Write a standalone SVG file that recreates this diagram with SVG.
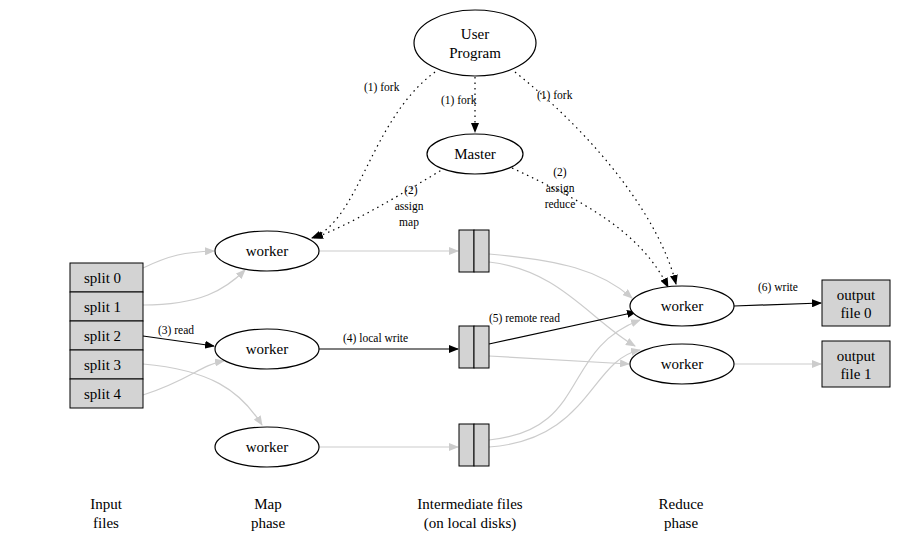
<svg xmlns="http://www.w3.org/2000/svg" width="924" height="553" viewBox="0 0 924 553" font-family="'Liberation Serif','DejaVu Serif',serif">
<defs>
<marker id="ab" markerWidth="10" markerHeight="8" refX="9" refY="4" orient="auto" markerUnits="userSpaceOnUse"><path d="M0,0L10,4L0,8z" fill="#000"/></marker>
<marker id="ag" markerWidth="10" markerHeight="8" refX="9" refY="4" orient="auto" markerUnits="userSpaceOnUse"><path d="M0,0L10,4L0,8z" fill="#ccc"/></marker>
</defs>
<style>
text{font-family:'Liberation Serif','DejaVu Serif',serif;fill:#000}
.n{font-size:15px}.s{font-size:11.5px}
ellipse{fill:#fff;stroke:#000;stroke-width:1.2}
.box{fill:#d3d3d3;stroke:#000;stroke-width:1}
.k{fill:none;stroke:#000;stroke-width:1.2;marker-end:url(#ab)}
.g{fill:none;stroke:#ccc;stroke-width:1.2;marker-end:url(#ag)}
.d{fill:none;stroke:#000;stroke-width:1.2;stroke-dasharray:1.5 4;marker-end:url(#ab)}
</style>
<rect width="924" height="553" fill="#fff"/>
<g id="connectors">
<path class="d" d="M435,72 C370,120 360,220 312,238"/>
<path class="d" d="M475,77 L475,132"/>
<path class="d" d="M515,72 C600,140 660,220 676,284"/>
<path class="d" d="M445,168 C400,195 350,225 314,238"/>
<path class="d" d="M512,168 C580,200 640,230 668,287"/>
<path class="g" d="M143,268 C170,255 185,252 214,251"/>
<path class="g" d="M143,305 C200,305 225,290 245,270"/>
<path class="k" d="M143,336 L214,346"/>
<path class="g" d="M143,364 C210,370 240,390 262,425"/>
<path class="g" d="M143,395 C190,380 200,365 224,361"/>
<path class="g" d="M319,251 L458,251"/>
<path class="k" d="M319,349 L458,349"/>
<path class="g" d="M319,447 L458,447"/>
<path class="g" d="M489,254 C560,260 600,270 632,298"/>
<path class="g" d="M489,262 C560,270 590,320 635,346"/>
<path class="k" d="M489,344 L636,312"/>
<path class="g" d="M489,356 C560,360 600,362 629,364"/>
<path class="g" d="M489,440 C590,430 560,350 640,320"/>
<path class="g" d="M489,447 C590,440 590,360 640,350"/>
<path class="k" d="M734,306 L821,303"/>
<path class="g" d="M734,364 L821,364"/>
</g>
<g class="s">
<text x="364" y="91">(1) fork</text>
<text x="441" y="104">(1) fork</text>
<text x="537" y="99">(1) fork</text>
<text x="411" y="194" text-anchor="middle">(2)</text>
<text x="409" y="210" text-anchor="middle">assign</text>
<text x="409" y="226" text-anchor="middle">map</text>
<text x="560" y="176" text-anchor="middle">(2)</text>
<text x="560" y="192" text-anchor="middle">assign</text>
<text x="560" y="208" text-anchor="middle">reduce</text>
<text x="158" y="334">(3) read</text>
<text x="343" y="342">(4) local write</text>
<text x="489" y="322">(5) remote read</text>
<text x="758" y="291">(6) write</text>
</g>
<g id="user"><ellipse cx="475" cy="43" rx="61" ry="33"/><text class="n" x="475" y="39" text-anchor="middle">User</text><text class="n" x="475" y="58" text-anchor="middle">Program</text></g>
<g id="master"><ellipse cx="475" cy="154" rx="48" ry="20"/><text class="n" x="475" y="159" text-anchor="middle">Master</text></g>
<g id="mw1"><ellipse cx="267" cy="251" rx="52" ry="20"/><text class="n" x="267" y="256" text-anchor="middle">worker</text></g>
<g id="mw2"><ellipse cx="267" cy="349" rx="52" ry="20"/><text class="n" x="267" y="354" text-anchor="middle">worker</text></g>
<g id="mw3"><ellipse cx="267" cy="447" rx="52" ry="20"/><text class="n" x="267" y="452" text-anchor="middle">worker</text></g>
<g id="rw1"><ellipse cx="682" cy="306" rx="52" ry="20"/><text class="n" x="682" y="311" text-anchor="middle">worker</text></g>
<g id="rw2"><ellipse cx="682" cy="364" rx="52" ry="20"/><text class="n" x="682" y="369" text-anchor="middle">worker</text></g>
<g id="splits">
<rect class="box" x="70" y="263" width="73" height="29"/><text class="n" x="84" y="283">split 0</text>
<rect class="box" x="70" y="292" width="73" height="29"/><text class="n" x="84" y="312">split 1</text>
<rect class="box" x="70" y="321" width="73" height="29"/><text class="n" x="84" y="341">split 2</text>
<rect class="box" x="70" y="350" width="73" height="29"/><text class="n" x="84" y="370">split 3</text>
<rect class="box" x="70" y="379" width="73" height="29"/><text class="n" x="84" y="399">split 4</text>
</g>
<g id="if1"><rect class="box" x="459" y="230" width="15" height="42"/><rect class="box" x="474" y="230" width="15" height="42"/></g>
<g id="if2"><rect class="box" x="459" y="326" width="15" height="42"/><rect class="box" x="474" y="326" width="15" height="42"/></g>
<g id="if3"><rect class="box" x="459" y="424" width="15" height="42"/><rect class="box" x="474" y="424" width="15" height="42"/></g>
<g id="out0"><rect class="box" x="822" y="280" width="68" height="46"/><text class="n" x="856" y="300" text-anchor="middle">output</text><text class="n" x="856" y="318" text-anchor="middle">file 0</text></g>
<g id="out1"><rect class="box" x="822" y="341" width="68" height="46"/><text class="n" x="856" y="361" text-anchor="middle">output</text><text class="n" x="856" y="379" text-anchor="middle">file 1</text></g>
<g class="n" text-anchor="middle">
<text x="106" y="509">Input</text><text x="106" y="528">files</text>
<text x="268" y="509">Map</text><text x="268" y="528">phase</text>
<text x="470" y="509">Intermediate files</text><text x="470" y="528">(on local disks)</text>
<text x="681" y="509">Reduce</text><text x="681" y="528">phase</text>
</g>
</svg>
